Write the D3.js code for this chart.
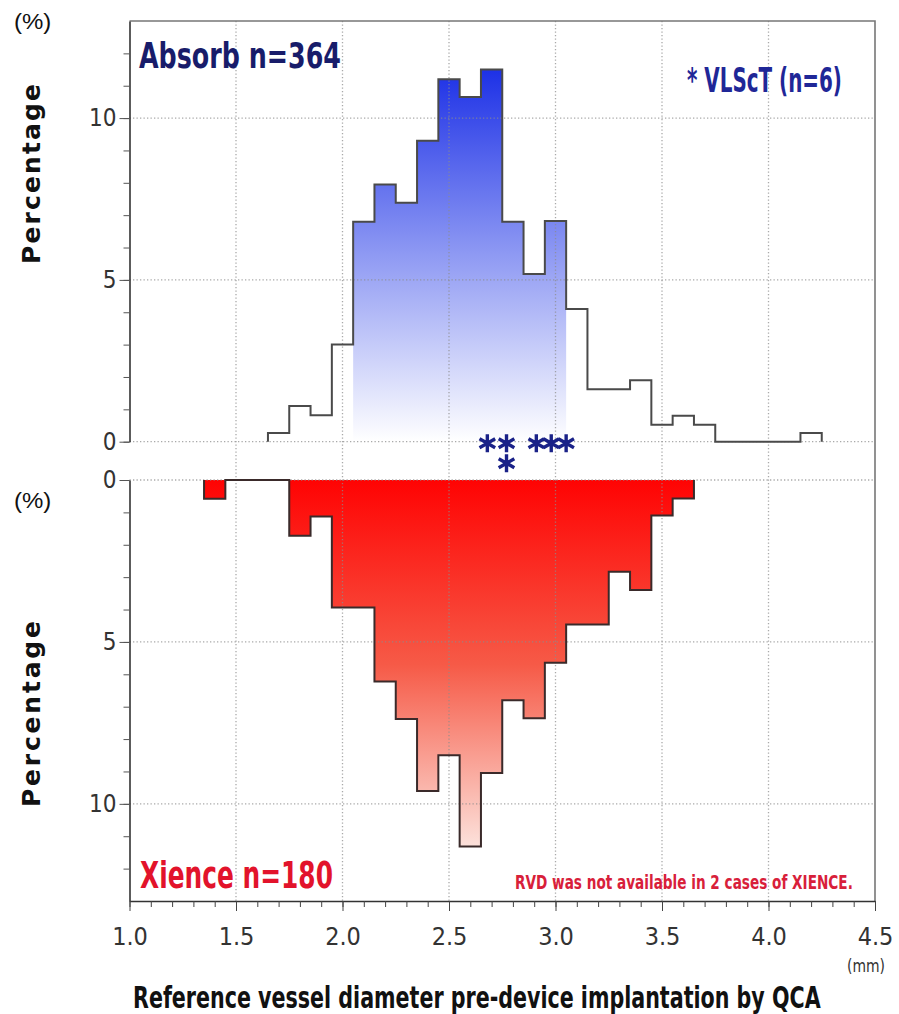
<!DOCTYPE html>
<html>
<head>
<meta charset="utf-8">
<script src="https://cdn.jsdelivr.net/npm/d3@7"></script>
<style>
  body { margin: 0; background: #fff; }
  .narrow { font-family: "Liberation Sans Narrow", "DejaVu Sans Condensed", "Roboto Condensed", sans-serif; }
</style>
</head>
<body>
<div id="chart"></div>
<script>
// histogram bins (centre of each 0.1 mm bin) and percentages
var binWidth = 0.1;
var absorbCenters = [1.7, 1.8, 1.9, 2.0, 2.1, 2.2, 2.3, 2.4, 2.5, 2.6, 2.7, 2.8, 2.9,
                     3.0, 3.1, 3.2, 3.3, 3.4, 3.5, 3.6, 3.7, 3.8, 3.9, 4.0, 4.1, 4.2];
var absorbPct = [0.27, 1.10, 0.82, 3.00, 6.80, 7.95, 7.38, 9.30, 11.20, 10.65, 11.50, 6.80, 5.18,
                 6.82, 4.10, 1.62, 1.62, 1.90, 0.52, 0.80, 0.52, 0, 0, 0, 0, 0.27];
var xienceCenters = [1.4, 1.5, 1.6, 1.7, 1.8, 1.9, 2.0, 2.1, 2.2, 2.3, 2.4, 2.5,
                     2.6, 2.7, 2.8, 2.9, 3.0, 3.1, 3.2, 3.3, 3.4, 3.5, 3.6];
var xiencePct = [0.58, 0, 0, 0, 1.72, 1.13, 3.94, 3.94, 6.22, 7.38, 9.6, 8.5,
                 11.32, 9.05, 6.8, 7.36, 5.64, 4.46, 4.46, 2.83, 3.4, 1.1, 0.57];
// VLScT cases (asterisks) : diameter and stacking row
var vlsctDiam = [2.68, 2.77, 2.77, 2.91, 2.98, 3.05];
var vlsctRow = [0, 0, 1, 0, 0, 0];
// the blue gradient only covers this diameter range
var absorbShadeRange = [2.05, 3.05];

var xMajor = [1.0, 1.5, 2.0, 2.5, 3.0, 3.5, 4.0, 4.5];
var xGrid = [1.5, 2.0, 2.5, 3.0, 3.5, 4.0];
var yMajor = [0, 5, 10];

var svgWidth = 899, svgHeight = 1014;
var svg = d3.select("#chart").append("svg")
  .attr("width", svgWidth)
  .attr("height", svgHeight)
  .style("display", "block");

var x = d3.scaleLinear().domain([1.0, 4.5]).range([129.5, 875]);
var yTop = d3.scaleLinear().domain([0, 13]).range([441.7, 21]);
var yBot = d3.scaleLinear().domain([0, 13]).range([480, 901]);

var defs = svg.append("defs");
var blueGrad = defs.append("linearGradient").attr("id", "blueGrad")
  .attr("gradientUnits", "userSpaceOnUse")
  .attr("x1", 0).attr("x2", 0).attr("y1", yTop(11.6)).attr("y2", yTop(0));
blueGrad.append("stop").attr("offset", "0%").attr("stop-color", "#1b2fe6");
blueGrad.append("stop").attr("offset", "50%").attr("stop-color", "#8e99f3");
blueGrad.append("stop").attr("offset", "100%").attr("stop-color", "#ffffff");

var redGrad = defs.append("linearGradient").attr("id", "redGrad")
  .attr("gradientUnits", "userSpaceOnUse")
  .attr("x1", 0).attr("x2", 0).attr("y1", yBot(0)).attr("y2", yBot(11.4));
redGrad.append("stop").attr("offset", "0%").attr("stop-color", "#ff0303");
redGrad.append("stop").attr("offset", "50%").attr("stop-color", "#f65a47");
redGrad.append("stop").attr("offset", "100%").attr("stop-color", "#fce3dd");

// step outline points for a histogram
function stepPoints(centers, vals) {
  var pts = [[centers[0] - binWidth / 2, 0]];
  centers.forEach(function(c, i) {
    pts.push([c - binWidth / 2, vals[i]]);
    pts.push([c + binWidth / 2, vals[i]]);
  });
  pts.push([centers[centers.length - 1] + binWidth / 2, 0]);
  return pts;
}

var lineTop = d3.line().x(function(d) { return x(d[0]); }).y(function(d) { return yTop(d[1]); });
var lineBot = d3.line().x(function(d) { return x(d[0]); }).y(function(d) { return yBot(d[1]); });

var absorbPts = stepPoints(absorbCenters, absorbPct);
var xiencePts = stepPoints(xienceCenters, xiencePct);

// fills
defs.append("clipPath").attr("id", "absorbClip")
  .append("path").attr("d", lineTop(absorbPts) + "Z");

svg.append("rect")
  .attr("clip-path", "url(#absorbClip)")
  .attr("x", x(absorbShadeRange[0]))
  .attr("width", x(absorbShadeRange[1]) - x(absorbShadeRange[0]))
  .attr("y", yTop(13))
  .attr("height", yTop(0) - yTop(13))
  .attr("fill", "url(#blueGrad)");

svg.append("path")
  .attr("d", lineBot(xiencePts) + "Z")
  .attr("fill", "url(#redGrad)");

// dotted grid
var grid = svg.append("g")
  .attr("stroke", "#8c8c8c")
  .attr("stroke-width", 1.3)
  .attr("stroke-dasharray", "1.3,2.2")
  .attr("stroke-opacity", 0.75);

grid.selectAll(".vg").data(xGrid).enter().append("line")
  .attr("x1", function(d) { return x(d); }).attr("x2", function(d) { return x(d); })
  .attr("y1", yTop(13)).attr("y2", yBot(13));

grid.selectAll(".hgt").data(yMajor).enter().append("line")
  .attr("x1", x(1.0)).attr("x2", x(4.5))
  .attr("y1", function(d) { return yTop(d); }).attr("y2", function(d) { return yTop(d); });

grid.selectAll(".hgb").data(yMajor).enter().append("line")
  .attr("x1", x(1.0)).attr("x2", x(4.5))
  .attr("y1", function(d) { return yBot(d); }).attr("y2", function(d) { return yBot(d); });

// outlines
svg.append("path")
  .attr("d", lineTop(absorbPts))
  .attr("fill", "none")
  .attr("stroke", "#4a4a4a")
  .attr("stroke-width", 2);

svg.append("path")
  .attr("d", lineBot(xiencePts))
  .attr("fill", "none")
  .attr("stroke", "#3a2a2a")
  .attr("stroke-width", 2);

// frame (top and right)
svg.append("path")
  .attr("d", "M" + x(1.0) + "," + yTop(13) + "H" + x(4.5) + "V" + yBot(13))
  .attr("fill", "none")
  .attr("stroke", "#777")
  .attr("stroke-width", 1.6);

// y axes
function yAxes(scale) {
  var g = svg.append("g").attr("transform", "translate(" + x(1.0) + ",0)");
  g.append("g")
    .call(d3.axisLeft(scale).tickValues(d3.range(0, 13)).tickSize(6).tickSizeOuter(0).tickFormat(""))
    .call(function(a) { a.select(".domain").attr("stroke", "#333").attr("stroke-width", 1.6); })
    .call(function(a) { a.selectAll(".tick line").attr("stroke", "#555"); });
  g.append("g")
    .call(d3.axisLeft(scale).tickValues(yMajor).tickSize(10).tickPadding(3).tickFormat(d3.format("d")))
    .call(function(a) { a.select(".domain").remove(); })
    .call(function(a) { a.selectAll(".tick line").attr("stroke", "#555"); })
    .call(function(a) {
      a.selectAll("text")
        .attr("class", "narrow")
        .style("font-size", "24px")
        .attr("fill", "#333");
    });
}
yAxes(yTop);
yAxes(yBot);

// x axis
var xa = svg.append("g").attr("transform", "translate(0," + yBot(13) + ")");
xa.append("g")
  .call(d3.axisBottom(x).tickValues(d3.range(10, 46).map(function(d) { return d / 10; }))
    .tickSize(6).tickSizeOuter(0).tickFormat(""))
  .call(function(a) { a.select(".domain").attr("stroke", "#333").attr("stroke-width", 1.6); })
  .call(function(a) { a.selectAll(".tick line").attr("stroke", "#444"); });
xa.append("g")
  .call(d3.axisBottom(x).tickValues(xMajor).tickSize(10).tickFormat(d3.format(".1f")))
  .call(function(a) { a.select(".domain").remove(); })
  .call(function(a) { a.selectAll(".tick line").attr("stroke", "#444"); })
  .call(function(a) {
    a.selectAll("text")
      .attr("class", "narrow")
      .attr("y", 44).attr("dy", 0)
      .style("font-size", "25px")
      .attr("fill", "#333");
  });

// asterisks for VLScT
var star = d3.symbol().type(d3.symbolAsterisk).size(230);
svg.selectAll(".ast").data(vlsctDiam).enter().append("path")
  .attr("d", star)
  .attr("transform", function(d, i) {
    return "translate(" + x(d) + "," + (yTop(0) + 1.5 + vlsctRow[i] * 20) + ")";
  })
  .attr("fill", "none")
  .attr("stroke", "#1a2288")
  .attr("stroke-width", 3.4);

// labels: drawn at natural size, then squeezed horizontally to the measured width
function label(txt, px, py, size, color, weight, len, cls) {
  var t = svg.append("text")
    .attr("x", 0).attr("y", 0)
    .text(txt)
    .style("font-size", size + "px")
    .style("font-weight", weight)
    .attr("fill", color);
  if (cls) t.attr("class", cls);
  var sx = 1;
  if (len) sx = len / t.node().getComputedTextLength();
  t.attr("transform", "translate(" + px + "," + py + ") scale(" + sx + ",1)");
  return t;
}

label("Absorb n=364", 139, 68, 36, "#181c6a", "bold", 202, "narrow");
label("* VLScT (n=6)", 687, 92, 34, "#1f2797", "bold", 155, "narrow");
label("Xience n=180", 140, 888, 38, "#e2132b", "bold", 193, "narrow");
label("RVD was not available in 2 cases of XIENCE.", 515, 889, 20, "#d8203a", "bold", 338, "narrow");

label("(%)", 14, 29, 22, "#111", "normal", 36).style("font-family", "'Liberation Sans', Arial, sans-serif");
label("(%)", 14, 508, 22, "#111", "normal", 36).style("font-family", "'Liberation Sans', Arial, sans-serif");

label("(mm)", 847, 972, 17, "#333", "normal", 38, "narrow");

label("Reference vessel diameter pre-device implantation by QCA", 133, 1008, 30, "#111", "bold", 688, "narrow");

// rotated axis titles
[[yTop, 174, 180], [yBot, 714, 186]].forEach(function(p) {
  svg.append("text")
    .attr("transform", "translate(40," + p[1] + ") rotate(-90)")
    .attr("text-anchor", "middle")
    .attr("textLength", p[2])
    .style("font-family", "'DejaVu Sans', sans-serif")
    .style("font-size", "25px")
    .style("font-weight", "bold")
    .attr("fill", "#111")
    .text("Percentage");
});
</script>
</body>
</html>
